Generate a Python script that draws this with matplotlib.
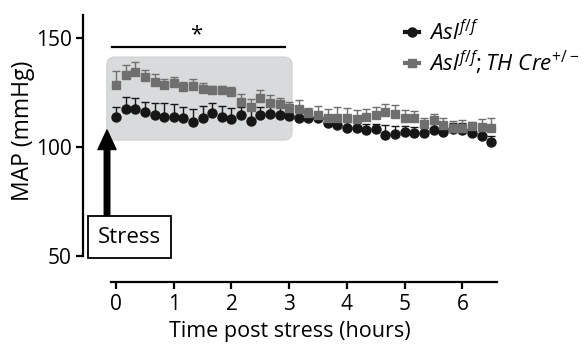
import matplotlib
matplotlib.use("Agg")
import matplotlib.pyplot as plt
from matplotlib.lines import Line2D
from matplotlib.patches import FancyBboxPatch, Rectangle
import numpy as np

plt.rcParams["font.family"] = ["Open Sans", "DejaVu Sans"]
plt.rcParams["mathtext.fontset"] = "custom"
plt.rcParams["mathtext.it"] = "Open Sans:italic"
plt.rcParams["mathtext.rm"] = "Open Sans"

# time in hours, one point every 10 minutes
time_h = np.arange(40) / 6.0

# Asl f/f (black circles)
asl_mean = [113.9, 117.4, 117.4, 116.2, 114.7, 113.9, 113.6, 113.2, 111.6, 113.2,
            115.5, 113.9, 112.8, 114.7, 112.1, 114.7, 115.1, 114.7, 114.4, 113.4,
            113.2, 113.2, 110.9, 110.1, 108.6, 108.6, 107.8, 108.1, 105.5, 105.8,
            106.7, 106.3, 106.3, 107.8, 107.0, 108.2, 108.0, 106.3, 105.2, 102.2]
asl_err = [4.6, 5.6, 4.9, 4.6, 5.6, 6.4, 6.0, 5.4, 5.8, 5.8,
           4.9, 5.0, 4.9, 3.8, 5.0, 3.5, 4.0, 4.0, 4.9, 3.0,
           3.0, 3.0, 3.8, 3.0, 3.0, 3.0, 3.0, 2.3, 4.6, 4.0,
           3.0, 3.0, 3.0, 3.0, 3.0, 3.0, 3.0, 3.0, 3.0, 3.0]

# Asl f/f; TH Cre+/- (gray squares)
cre_mean = [128.4, 133.0, 134.5, 132.2, 130.0, 128.4, 129.2, 127.7, 128.1, 126.5,
            126.1, 126.1, 125.1, 120.8, 118.5, 122.6, 120.3, 119.6, 118.0, 117.4,
            115.5, 114.7, 113.4, 113.2, 113.4, 112.7, 113.9, 114.7, 116.2, 115.1,
            113.2, 113.2, 110.4, 112.4, 110.1, 108.9, 108.9, 109.8, 109.3, 108.9]
cre_err = [6.5, 4.6, 4.3, 3.1, 3.4, 2.8, 3.1, 2.3, 3.1, 2.8,
           2.0, 2.0, 2.6, 3.4, 3.5, 3.5, 3.5, 3.1, 2.8, 4.0,
           2.6, 4.3, 4.0, 5.4, 4.6, 4.3, 3.5, 3.8, 3.4, 4.1,
           3.8, 3.4, 2.8, 2.8, 3.1, 3.1, 3.5, 1.8, 3.8, 4.6]

x_ticks = [0, 1, 2, 3, 4, 5, 6]
y_ticks = [50, 100, 150]

BLACK = "#161616"
GRAY = "#6f6f6f"

fig = plt.figure(figsize=(5.87, 3.46), dpi=100)
ax = fig.add_axes([0.1414, 0.185, 0.7053, 0.7717])
ax.set_xlim(-0.572, 6.60)
ax.set_ylim(38.1, 160.6)

# shaded significance window
box = FancyBboxPatch((-0.16, 103.2), 3.21, 38.1,
                     boxstyle="round,pad=0,rounding_size=0.14",
                     mutation_aspect=26.5, facecolor="#d9dadb",
                     edgecolor="#cfd0d1", linewidth=0.8, zorder=0)
ax.add_patch(box)

# black circles
ax.errorbar(time_h, asl_mean, yerr=[np.zeros(len(asl_err)), asl_err],
            fmt="o", color=BLACK, ms=6.5, elinewidth=1.0, capsize=2.8,
            capthick=1.0, zorder=3)
# gray squares
ax.errorbar(time_h, cre_mean, yerr=[np.zeros(len(cre_err)), cre_err],
            fmt="s", color=GRAY, ms=6.0, elinewidth=1.0, capsize=2.8,
            capthick=1.0, zorder=4)

# significance bar + asterisk
ax.plot([-0.07, 2.93], [145.9, 145.9], color="black", lw=1.6, zorder=5)
ax.text(1.39, 151.5, "*", ha="center", va="center", fontsize=16)

# stress arrow and box
ax.annotate("", xy=(-0.156, 107.8), xytext=(-0.156, 68.3),
            arrowprops=dict(facecolor="black", edgecolor="black",
                            width=4.0, headwidth=13, headlength=14),
            zorder=6)
ax.add_patch(Rectangle((-0.485, 49.0), 1.438, 19.3, facecolor="white",
                       edgecolor="black", linewidth=1.3, zorder=7))
ax.text(0.234, 58.7, "Stress", ha="center", va="center", fontsize=16, zorder=8)

# axes styling
for side in ["top", "right"]:
    ax.spines[side].set_visible(False)
ax.spines["left"].set_linewidth(1.6)
ax.spines["bottom"].set_linewidth(1.6)
ax.spines["left"].set_bounds(50, 160.6)
ax.spines["bottom"].set_bounds(-0.09, 6.6)
ax.set_xticks(x_ticks)
ax.set_yticks(y_ticks)
ax.tick_params(axis="both", direction="out", length=5, width=1.6,
               labelsize=15, pad=3)
ax.tick_params(axis="x", pad=4)

ax.set_xlabel("Time post stress (hours)", fontsize=15.5, labelpad=4)
ax.set_ylabel("MAP (mmHg)", fontsize=16.5)
ax.yaxis.set_label_coords(-0.117, 0.566)

handles = [
    Line2D([0], [0], color=BLACK, marker="o", ms=6.5, lw=3),
    Line2D([0], [0], color=GRAY, marker="s", ms=6.0, lw=3),
]
labels = [r"$\mathit{Asl}^{\mathit{f/f}}$",
          r"$\mathit{Asl}^{\mathit{f/f}}\mathit{;TH\ Cre}^{\mathit{+/-}}$"]
ax.legend(handles, labels, loc="upper left", bbox_to_anchor=(405 / 587, 1 - 20 / 346),
          bbox_transform=fig.transFigure, frameon=False, fontsize=16,
          handlelength=0.65, handletextpad=0.45, labelspacing=0.15,
          borderpad=0, borderaxespad=0)

fig.savefig("out.png", dpi=100)
